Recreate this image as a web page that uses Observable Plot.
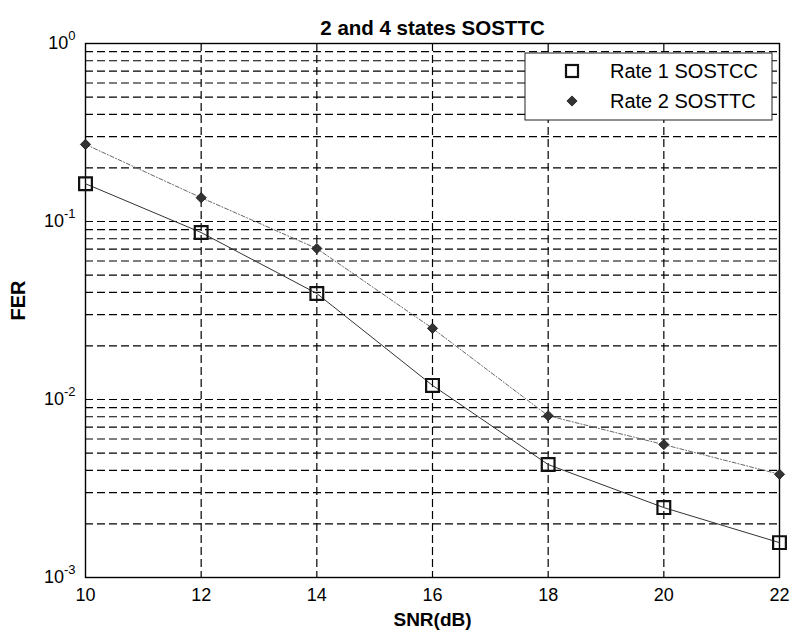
<!DOCTYPE html>
<html>
<head>
<meta charset="utf-8">
<script src="https://cdn.jsdelivr.net/npm/d3@7"></script>
<script src="https://cdn.jsdelivr.net/npm/@observablehq/plot@0.6"></script>
<style>
  html, body { margin: 0; padding: 0; background: #fff; }
  #chart { width: 792px; height: 634px; }
</style>
</head>
<body>
<div id="chart"></div>
<script>
// ---- data ----
const snr = [10, 12, 14, 16, 18, 20, 22];
const rate1 = [0.163, 0.0867, 0.0394, 0.0120, 0.00431, 0.00247, 0.00157];
const rate2 = [0.271, 0.136, 0.0705, 0.0251, 0.0081, 0.00558, 0.0038];
const seriesNames = ["Rate 1 SOSTCC", "Rate 2 SOSTTC"];
const xTicks = [10, 12, 14, 16, 18, 20, 22];
const yTicks = [1e-3, 1e-2, 1e-1, 1];
const yTickExponents = ["-3", "-2", "-1", "0"];
const xGrid = [12, 14, 16, 18, 20];
const mantissas = [1, 2, 3, 4, 5, 6, 7, 8, 9];
const decades = [1e-3, 1e-2, 1e-1];
const titleText = "2 and 4 states SOSTTC";
const xLabel = "SNR(dB)";
const yLabel = "FER";

const yGrid = decades.flatMap(d => mantissas.map(m => m * d)).filter(v => v > 1e-3 && v < 1);
const s1 = snr.map((x, i) => ({x, y: rate1[i]}));
const s2 = snr.map((x, i) => ({x, y: rate2[i]}));

const font = "'Liberation Sans', Arial, Helvetica, sans-serif";

const chart = Plot.plot({
  width: 792,
  height: 634,
  marginTop: 43,
  marginBottom: 57,
  marginLeft: 85,
  marginRight: 13,
  style: {fontFamily: font, fontSize: "18px", color: "#000", background: "#fff", overflow: "visible"},
  x: {domain: [10, 22], label: null},
  y: {type: "log", domain: [1e-3, 1], label: null},
  marks: [
    Plot.ruleY(yGrid, {stroke: "#000", strokeWidth: 1.2, strokeDasharray: "8,4"}),
    Plot.ruleX(xGrid, {stroke: "#000", strokeWidth: 1.2, strokeDasharray: "8,4"}),
    Plot.frame({stroke: "#000", strokeWidth: 1.4}),
    Plot.line(s1, {x: "x", y: "y", stroke: "#333", strokeWidth: 1}),
    Plot.line(s2, {x: "x", y: "y", stroke: "#666", strokeWidth: 1, strokeDasharray: "4,2,1,2"}),
    Plot.dot(s1, {x: "x", y: "y", symbol: "square", r: 7.2, stroke: "#111", strokeWidth: 2.2, fill: "none"}),
    Plot.dot(s2, {x: "x", y: "y", symbol: "diamond2", r: 4.6, fill: "#333", stroke: "#111", strokeWidth: 0.8}),
    Plot.text([titleText], {frameAnchor: "top", dy: -23, fontWeight: "bold", fontSize: 20.5, fill: "#000"}),
    Plot.text([xLabel], {frameAnchor: "bottom", dy: 48, fontWeight: "bold", fontSize: 19, fill: "#000"}),
    Plot.text([yLabel], {frameAnchor: "left", dx: -67, dy: 10, rotate: -90, fontWeight: "bold", fontSize: 20, fill: "#000"}),
    Plot.axisX({ticks: xTicks, tickSize: 0, tickPadding: 11, label: null, fill: "#000",
      tickFormat: d => String(d)}),
    Plot.axisY({ticks: yTicks, tickSize: 0, tickPadding: 10, label: null, fill: "#000",
      tickFormat: d => yTickExponents[yTicks.indexOf(d)]})
  ]
});

document.getElementById("chart").appendChild(chart);

const svg = d3.select(chart);
// tick label font size
svg.selectAll('g[aria-label="x-axis tick label"], g[aria-label="y-axis tick label"]')
  .style("font-size", "18px").attr("font-size", 18);

// superscript exponents for y tick labels
svg.selectAll('g[aria-label="y-axis tick label"] text').each(function() {
  const e = this.textContent;
  const t = d3.select(this);
  t.text("10");
  t.append("tspan").attr("dy", "-0.72em").style("font-size", "13px").text(e);
});

// legend
const lg = svg.append("g").attr("font-family", font).style("font-size", "20px").attr("text-anchor", "start");
lg.append("rect").attr("x", 525).attr("y", 53).attr("width", 247).attr("height", 67)
  .attr("fill", "#fff").attr("stroke", "#222").attr("stroke-width", 1);
lg.append("rect").attr("x", 566).attr("y", 65).attr("width", 12).attr("height", 12)
  .attr("fill", "none").attr("stroke", "#111").attr("stroke-width", 2.2);
lg.append("path").attr("d", d3.symbol(d3.symbolDiamond2, Math.PI * 4.6 * 4.6)())
  .attr("transform", "translate(572,101)").attr("fill", "#333").attr("stroke", "#111").attr("stroke-width", 0.8);
lg.append("text").attr("x", 610).attr("y", 71).attr("dy", "0.36em").attr("fill", "#000").attr("text-anchor", "start").text(seriesNames[0]);
lg.append("text").attr("x", 610).attr("y", 101).attr("dy", "0.36em").attr("fill", "#000").attr("text-anchor", "start").text(seriesNames[1]);
</script>
</body>
</html>
